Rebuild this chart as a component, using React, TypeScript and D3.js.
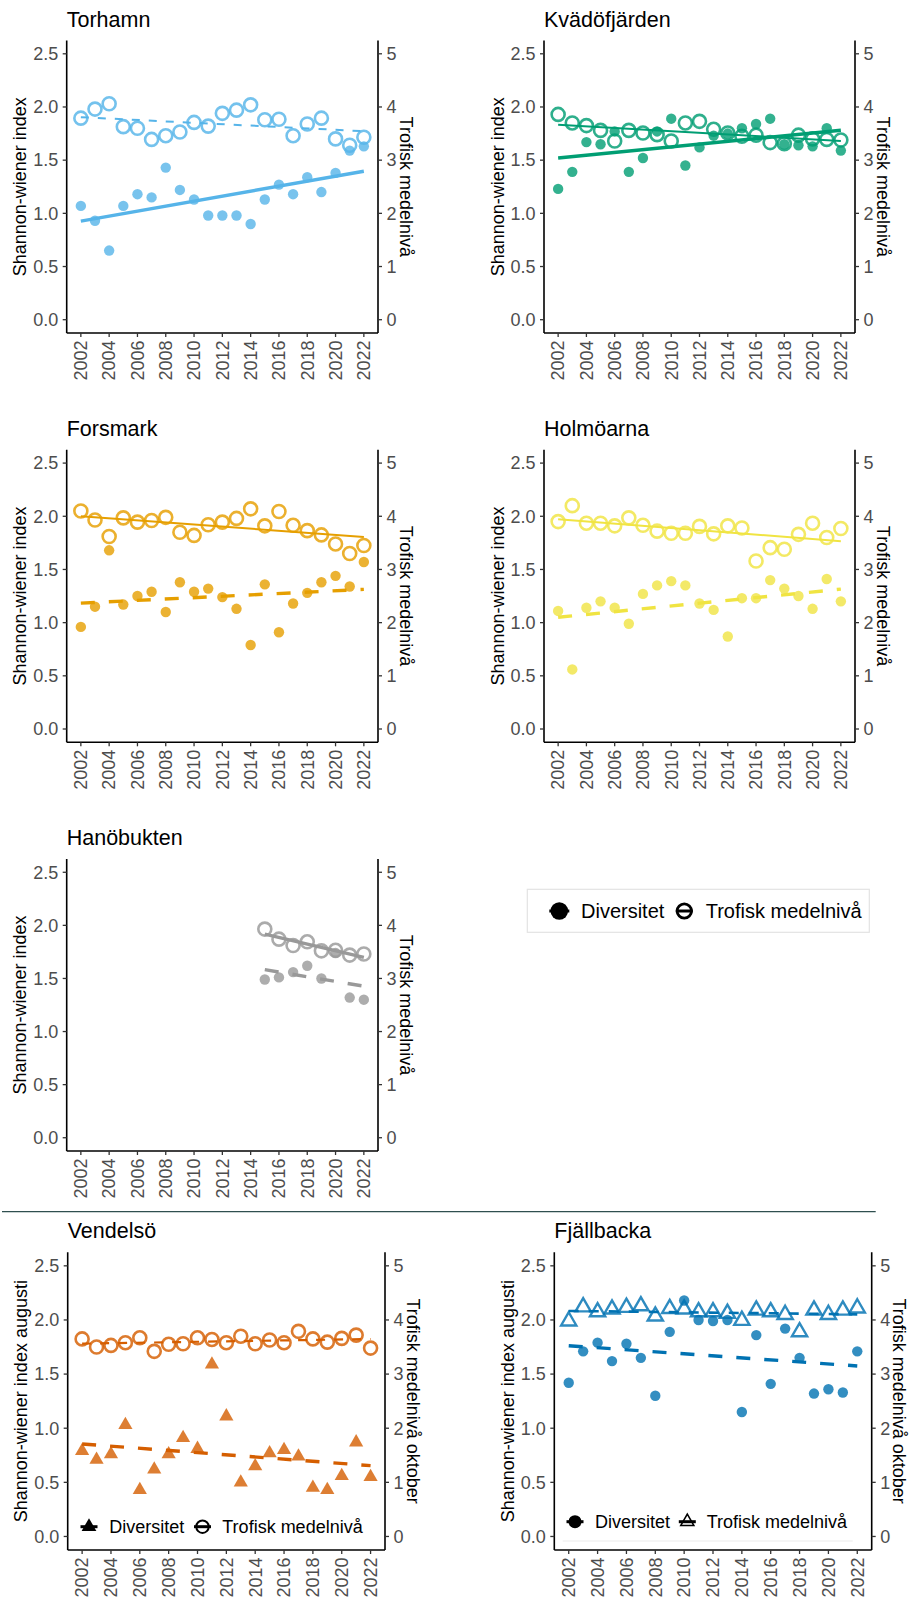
import React from "react";
import * as d3 from "d3";

// ---------- data ----------
const YEARS = [2002, 2003, 2004, 2005, 2006, 2007, 2008, 2009, 2010, 2011, 2012, 2013, 2014, 2015, 2016, 2017, 2018, 2019, 2020, 2021, 2022];
const YEARS_HANO = [2015, 2016, 2017, 2018, 2019, 2020, 2021, 2022];
const X_TICKS = [2002, 2004, 2006, 2008, 2010, 2012, 2014, 2016, 2018, 2020, 2022];
const Y_TICKS = [0, 0.5, 1, 1.5, 2, 2.5];
const Y2_TICKS = [0, 1, 2, 3, 4, 5];

const torhamnDiversitet = [1.07, 0.93, 0.65, 1.07, 1.18, 1.15, 1.43, 1.22, 1.13, 0.98, 0.98, 0.98, 0.9, 1.13, 1.27, 1.18, 1.34, 1.2, 1.38, 1.59, 1.63];
const torhamnTrofisk = [3.79, 3.96, 4.06, 3.63, 3.6, 3.39, 3.46, 3.53, 3.71, 3.64, 3.88, 3.94, 4.04, 3.76, 3.77, 3.46, 3.68, 3.79, 3.4, 3.28, 3.43];

const kvadoDiversitet = [1.23, 1.39, 1.67, 1.65, 1.77, 1.39, 1.52, 1.77, 1.89, 1.45, 1.62, 1.73, 1.75, 1.8, 1.84, 1.89, 1.65, 1.64, 1.63, 1.8, 1.59];
const kvadoTrofisk = [3.86, 3.7, 3.65, 3.56, 3.36, 3.56, 3.51, 3.48, 3.36, 3.7, 3.73, 3.58, 3.51, 3.45, 3.47, 3.33, 3.31, 3.47, 3.4, 3.39, 3.38];

const forsmarkDiversitet = [0.96, 1.15, 1.68, 1.17, 1.25, 1.29, 1.1, 1.38, 1.29, 1.32, 1.24, 1.13, 0.79, 1.36, 0.91, 1.18, 1.28, 1.38, 1.44, 1.34, 1.57];
const forsmarkTrofisk = [4.1, 3.93, 3.62, 3.97, 3.89, 3.92, 3.98, 3.7, 3.64, 3.84, 3.89, 3.96, 4.14, 3.82, 4.09, 3.83, 3.73, 3.65, 3.48, 3.3, 3.45];

const holmoarnaDiversitet = [1.11, 0.56, 1.14, 1.2, 1.14, 0.99, 1.27, 1.35, 1.39, 1.35, 1.18, 1.12, 0.87, 1.23, 1.23, 1.4, 1.32, 1.25, 1.13, 1.41, 1.2];
const holmoarnaTrofisk = [3.9, 4.2, 3.87, 3.87, 3.82, 3.97, 3.83, 3.72, 3.68, 3.68, 3.81, 3.67, 3.82, 3.78, 3.16, 3.41, 3.38, 3.66, 3.87, 3.6, 3.77];

const hanobuktenDiversitet = [1.49, 1.51, 1.56, 1.62, 1.5, 1.74, 1.32, 1.3];
const hanobuktenTrofisk = [3.93, 3.74, 3.62, 3.69, 3.52, 3.53, 3.44, 3.46];

const vendelsoDiversitet = [0.79, 0.71, 0.76, 1.03, 0.43, 0.62, 0.76, 0.91, 0.81, 1.59, 1.11, 0.5, 0.65, 0.77, 0.8, 0.74, 0.45, 0.43, 0.56, 0.87, 0.55];
const vendelsoTrofisk = [3.65, 3.5, 3.53, 3.58, 3.67, 3.42, 3.55, 3.56, 3.67, 3.64, 3.58, 3.7, 3.56, 3.63, 3.58, 3.79, 3.65, 3.59, 3.66, 3.72, 3.48];

const fjallbackaDiversitet = [1.42, 1.71, 1.79, 1.62, 1.78, 1.65, 1.3, 1.89, 2.18, 2.0, 1.99, 2.0, 1.15, 1.86, 1.41, 1.92, 1.65, 1.32, 1.36, 1.33, 1.71];
const fjallbackaTrofisk = [3.98, 4.24, 4.15, 4.2, 4.23, 4.26, 4.07, 4.21, 4.2, 4.15, 4.15, 4.12, 3.99, 4.18, 4.15, 4.1, 3.78, 4.18, 4.1, 4.18, 4.22];

const LEGEND_LABELS = ["Diversitet", "Trofisk medelnivå"];

// ---------- styles / layout ----------
const FONT = "'Liberation Sans', Arial, sans-serif";
const TICK_COLOR = "#4D4D4D";
const THICK = 3.4;

type Shape = "circle" | "triangle";
interface LineStyle { width: number; dash: string | null; }
interface Panel {
  title: string;
  years: number[];
  div: number[];
  tro: number[];
  color: string;
  divShape: Shape;
  troShape: Shape;
  divLine: LineStyle;
  troLine: LineStyle;
  left: number; right: number; top: number; bottom: number;
  yTitle: string; y2Title: string;
}

const COL1 = { left: 66.7, right: 378 };
const COL2 = { left: 544, right: 855 };
const ROW1 = { top: 40.5, bottom: 333 };
const ROW2 = { top: 449.8, bottom: 742.3 };
const ROW3 = { top: 859, bottom: 1151 };
const ROW4 = { top: 1252.3, bottom: 1550 };

const Y_TITLE = "Shannon-wiener index";
const Y2_TITLE = "Trofisk medelnivå";

const panels: Panel[] = [
  { title: "Torhamn", years: YEARS, div: torhamnDiversitet, tro: torhamnTrofisk, color: "#56B4E9", divShape: "circle", troShape: "circle",
    divLine: { width: THICK, dash: null }, troLine: { width: 2, dash: "8 9" }, ...COL1, ...ROW1, yTitle: Y_TITLE, y2Title: Y2_TITLE },
  { title: "Kvädöfjärden", years: YEARS, div: kvadoDiversitet, tro: kvadoTrofisk, color: "#009E73", divShape: "circle", troShape: "circle",
    divLine: { width: THICK, dash: null }, troLine: { width: 2, dash: null }, ...COL2, ...ROW1, yTitle: Y_TITLE, y2Title: Y2_TITLE },
  { title: "Forsmark", years: YEARS, div: forsmarkDiversitet, tro: forsmarkTrofisk, color: "#E69F00", divShape: "circle", troShape: "circle",
    divLine: { width: THICK, dash: "14 14" }, troLine: { width: 2, dash: null }, ...COL1, ...ROW2, yTitle: Y_TITLE, y2Title: Y2_TITLE },
  { title: "Holmöarna", years: YEARS, div: holmoarnaDiversitet, tro: holmoarnaTrofisk, color: "#F0E442", divShape: "circle", troShape: "circle",
    divLine: { width: THICK, dash: "14 14" }, troLine: { width: 2, dash: null }, ...COL2, ...ROW2, yTitle: Y_TITLE, y2Title: Y2_TITLE },
  { title: "Hanöbukten", years: YEARS_HANO, div: hanobuktenDiversitet, tro: hanobuktenTrofisk, color: "#999999", divShape: "circle", troShape: "circle",
    divLine: { width: THICK, dash: "14 14" }, troLine: { width: THICK, dash: null }, ...COL1, ...ROW3, yTitle: Y_TITLE, y2Title: Y2_TITLE },
  { title: "Vendelsö", years: YEARS, div: vendelsoDiversitet, tro: vendelsoTrofisk, color: "#D55E00", divShape: "triangle", troShape: "circle",
    divLine: { width: THICK, dash: "14 14" }, troLine: { width: 2.2, dash: "9 9" }, left: 67.7, right: 385, ...ROW4,
    yTitle: "Shannon-wiener index augusti", y2Title: "Trofisk medelnivå oktober" },
  { title: "Fjällbacka", years: YEARS, div: fjallbackaDiversitet, tro: fjallbackaTrofisk, color: "#0072B2", divShape: "circle", troShape: "triangle",
    divLine: { width: THICK, dash: "14 14" }, troLine: { width: 2.6, dash: "10 10" }, left: 554.3, right: 871.7, ...ROW4,
    yTitle: "Shannon-wiener index augusti", y2Title: "Trofisk medelnivå oktober" },
];

function linFit(xs: number[], ys: number[]) {
  const mx = d3.mean(xs)!;
  const my = d3.mean(ys)!;
  let sxy = 0, sxx = 0;
  xs.forEach((x, i) => { sxy += (x - mx) * (ys[i] - my); sxx += (x - mx) * (x - mx); });
  const b = sxy / sxx;
  const x0 = d3.min(xs)!, x1 = d3.max(xs)!;
  return [[x0, my + b * (x0 - mx)], [x1, my + b * (x1 - mx)]] as [number, number][];
}

function Marker({ shape, filled, cx, cy, r, color, sw, opacity }: { shape: Shape; filled: boolean; cx: number; cy: number; r: number; color: string; sw: number; opacity: number }) {
  if (shape === "circle") {
    return filled
      ? <circle cx={cx} cy={cy} r={r} fill={color} fillOpacity={opacity} />
      : <circle cx={cx} cy={cy} r={r} fill="none" stroke={color} strokeOpacity={opacity} strokeWidth={sw} />;
  }
  const h = r * Math.sqrt(3) / 2;
  const d = `M${cx},${cy - r}L${cx + h},${cy + r / 2}L${cx - h},${cy + r / 2}Z`;
  return filled
    ? <path d={d} fill={color} fillOpacity={opacity} />
    : <path d={d} fill="none" stroke={color} strokeOpacity={opacity} strokeWidth={sw} strokeLinejoin="miter" />;
}

function PanelView({ p }: { p: Panel }) {
  const x = d3.scaleLinear().domain([2001, 2023]).range([p.left, p.right]);
  const y = d3.scaleLinear().domain([-0.125, 2.625]).range([p.bottom, p.top]);
  const y2 = d3.scaleLinear().domain([-0.25, 5.25]).range([p.bottom, p.top]);
  const divFit = linFit(p.years, p.div);
  const troFit = linFit(p.years, p.tro);
  const divPath = d3.line<[number, number]>().x((d) => x(d[0])).y((d) => y(d[1]))(divFit)!;
  const troPath = d3.line<[number, number]>().x((d) => x(d[0])).y((d) => y2(d[1]))(troFit)!;
  const cy = (p.top + p.bottom) / 2;
  const troOpen = { circle: { r: 6.5, sw: 2.6 }, triangle: { r: 8.8, sw: 2.4 } };
  const divFilled = { circle: { r: 5.2 }, triangle: { r: 8.2 } };
  return (
    <g>
      <text x={p.left} y={p.top - 14} fontSize={21.5} fill="#000">{p.title}</text>
      <path d={troPath} fill="none" stroke={p.color} strokeWidth={p.troLine.width} strokeDasharray={p.troLine.dash ?? undefined} />
      <path d={divPath} fill="none" stroke={p.color} strokeWidth={p.divLine.width} strokeDasharray={p.divLine.dash ?? undefined} />
      {p.tro.map((v, i) => (
        <Marker key={"t" + i} shape={p.troShape} filled={false} cx={x(p.years[i])} cy={y2(v)} r={troOpen[p.troShape].r} sw={troOpen[p.troShape].sw} color={p.color} opacity={0.82} />
      ))}
      {p.div.map((v, i) => (
        <Marker key={"d" + i} shape={p.divShape} filled={true} cx={x(p.years[i])} cy={y(v)} r={divFilled[p.divShape].r} sw={0} color={p.color} opacity={0.8} />
      ))}
      <line x1={p.left} x2={p.left} y1={p.top} y2={p.bottom} stroke="#000" strokeWidth={1.6} />
      <line x1={p.right} x2={p.right} y1={p.top} y2={p.bottom} stroke="#000" strokeWidth={1.6} />
      <line x1={p.left} x2={p.right} y1={p.bottom} y2={p.bottom} stroke="#000" strokeWidth={1.6} />
      {Y_TICKS.map((t) => (
        <g key={"yl" + t}>
          <line x1={p.left - 4} x2={p.left} y1={y(t)} y2={y(t)} stroke="#333" strokeWidth={1.3} />
          <text x={p.left - 8.5} y={y(t)} dy="0.35em" textAnchor="end" fontSize={18} fill={TICK_COLOR}>{d3.format(".1f")(t)}</text>
        </g>
      ))}
      {Y2_TICKS.map((t) => (
        <g key={"yr" + t}>
          <line x1={p.right} x2={p.right + 4} y1={y2(t)} y2={y2(t)} stroke="#333" strokeWidth={1.3} />
          <text x={p.right + 8.5} y={y2(t)} dy="0.35em" textAnchor="start" fontSize={18} fill={TICK_COLOR}>{t}</text>
        </g>
      ))}
      {X_TICKS.map((t) => (
        <g key={"x" + t}>
          <line x1={x(t)} x2={x(t)} y1={p.bottom} y2={p.bottom + 4} stroke="#333" strokeWidth={1.3} />
          <text transform={`translate(${x(t)},${p.bottom + 7.5}) rotate(-90)`} dy="0.35em" textAnchor="end" fontSize={18} fill={TICK_COLOR}>{t}</text>
        </g>
      ))}
      <text transform={`translate(${p.left - 40.5},${cy}) rotate(-90)`} textAnchor="middle" fontSize={18} fill="#000">{p.yTitle}</text>
      <text transform={`translate(${p.right + 21.5},${cy}) rotate(90)`} textAnchor="middle" fontSize={18} fill="#000">{p.y2Title}</text>
    </g>
  );
}

function LegendKey({ shape, filled, cx, cy, r, sw, lineW }: { shape: Shape; filled: boolean; cx: number; cy: number; r: number; sw: number; lineW: number }) {
  return (
    <g>
      <line x1={cx - lineW / 2} x2={cx + lineW / 2} y1={cy} y2={cy} stroke="#000" strokeWidth={3} />
      <Marker shape={shape} filled={filled} cx={cx} cy={cy} r={r} color="#000" sw={sw} opacity={1} />
    </g>
  );
}

export default function App() {
  return (
    <svg width={910} height={1600} style={{ position: "absolute", left: 0, top: 0, display: "block", background: "#fff" }} fontFamily={FONT}>
      <rect x={0} y={0} width={910} height={1600} fill="#fff" />
      {panels.map((p) => <PanelView key={p.title} p={p} />)}

      {/* main legend */}
      <rect x={527.3} y={889.3} width={342} height={43} fill="#fff" stroke="#E3E3E3" strokeWidth={1.2} />
      <LegendKey shape="circle" filled={true} cx={559.3} cy={911} r={8.8} sw={0} lineW={20} />
      <text x={581} y={911} dy="0.35em" fontSize={20} fill="#000">{LEGEND_LABELS[0]}</text>
      <LegendKey shape="circle" filled={false} cx={684.3} cy={911} r={7.2} sw={2.8} lineW={17} />
      <text x={705.7} y={911} dy="0.35em" fontSize={20} fill="#000">{LEGEND_LABELS[1]}</text>

      {/* separator */}
      <line x1={2} x2={875.7} y1={1211.7} y2={1211.7} stroke="#2F4F4F" strokeWidth={1.2} />

      {/* Vendelsö legend */}
      <LegendKey shape="triangle" filled={true} cx={89} cy={1526.7} r={8.5} sw={0} lineW={17} />
      <text x={109.3} y={1526.7} dy="0.35em" fontSize={18} fill="#000">{LEGEND_LABELS[0]}</text>
      <LegendKey shape="circle" filled={false} cx={202.5} cy={1526.7} r={6.2} sw={2} lineW={17} />
      <text x={222.3} y={1526.7} dy="0.35em" fontSize={18} fill="#000">{LEGEND_LABELS[1]}</text>

      {/* Fjällbacka legend */}
      <line x1={562.7} x2={852.7} y1={1541} y2={1541} stroke="#EBEBEB" strokeWidth={1} />
      <LegendKey shape="circle" filled={true} cx={575} cy={1521.7} r={6.5} sw={0} lineW={17} />
      <text x={595} y={1521.7} dy="0.35em" fontSize={18} fill="#000">{LEGEND_LABELS[0]}</text>
      <LegendKey shape="triangle" filled={false} cx={687.3} cy={1521.7} r={7.5} sw={1.6} lineW={17} />
      <text x={706.7} y={1521.7} dy="0.35em" fontSize={18} fill="#000">{LEGEND_LABELS[1]}</text>
    </svg>
  );
}
